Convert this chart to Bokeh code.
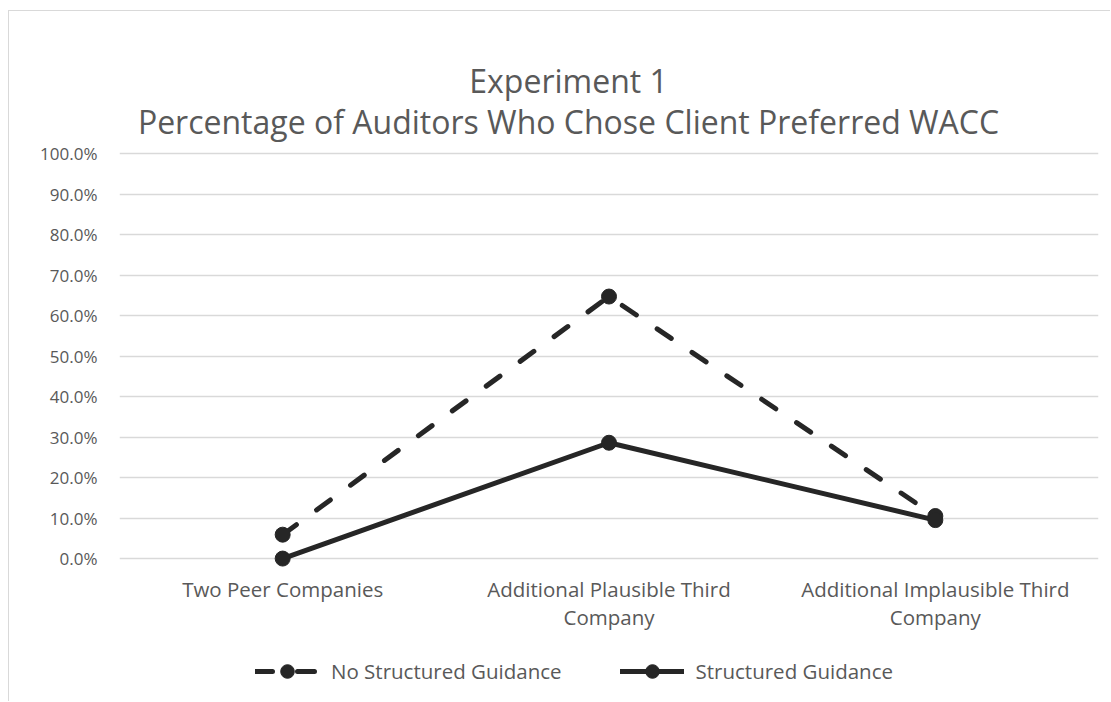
from bokeh.plotting import figure
from bokeh.models import (FactorRange, Range1d, NumeralTickFormatter, FixedTicker,
                          Legend, LegendItem, Label)
from bokeh.core.properties import value
from bokeh.embed import file_html
from bokeh.resources import INLINE

categories = ["Two Peer Companies", "Additional Plausible Third\nCompany",
              "Additional Implausible Third\nCompany"]
no_structured = [0.059, 0.647, 0.105]
structured = [0.0, 0.286, 0.095]
y_ticks = [i / 10 for i in range(11)]
title_line1 = "Experiment 1"
title_line2 = "Percentage of Auditors Who Chose Client Preferred WACC"
series_names = ["No Structured Guidance", "Structured Guidance"]

FONT = "Open Sans"
GRAY = "#595959"
DARK = "#262626"

p = figure(width=1102, height=691, output_backend="svg", toolbar_location=None,
           x_range=FactorRange(*categories, range_padding=0),
           y_range=Range1d(-0.348, 1.299),
           min_border_left=110, min_border_right=13,
           min_border_top=21, min_border_bottom=3)
p.outline_line_color = None
p.background_fill_color = "white"
p.border_fill_color = "white"
p.styles = {"border-top": "1px solid #d9d9d9", "border-left": "1px solid #d9d9d9",
            "margin-left": "8px", "margin-top": "10px"}

r1 = p.line(categories, no_structured, line_color=DARK, line_width=5,
            line_dash="17 25", line_cap="round")
s1 = p.scatter(categories, no_structured, size=15, fill_color=DARK, line_color=DARK)
r2 = p.line(categories, structured, line_color=DARK, line_width=5, line_cap="round")
s2 = p.scatter(categories, structured, size=15, fill_color=DARK, line_color=DARK)

# category labels (x axis tick labels)
p.xaxis.visible = False
p.text(x=categories, y=[-0.040] * len(categories), text=categories,
       text_align="center", text_baseline="top", text_font=value(FONT),
       text_font_size="20.5px", text_color=GRAY, text_line_height=1.0)

p.yaxis.ticker = FixedTicker(ticks=y_ticks)
p.yaxis.formatter = NumeralTickFormatter(format="0.0%")
p.yaxis.axis_line_color = None
p.yaxis.major_tick_line_color = None
p.yaxis.minor_tick_line_color = None
p.yaxis.major_label_text_color = GRAY
p.yaxis.major_label_text_font = FONT
p.yaxis.major_label_text_font_size = "17px"
p.yaxis.major_label_standoff = 16
p.ygrid.ticker = FixedTicker(ticks=y_ticks)
p.ygrid.grid_line_color = "#d9d9d9"
p.ygrid.grid_line_width = 1.5
p.xgrid.grid_line_color = None

p.add_layout(Label(x=1.376, y=1.18, text=title_line1, text_align="center",
                   text_baseline="middle", text_font=FONT, text_font_size="32px",
                   text_color=GRAY))
p.add_layout(Label(x=1.376, y=1.079, text=title_line2, text_align="center",
                   text_baseline="middle", text_font=FONT, text_font_size="32px",
                   text_color=GRAY))

legend = Legend(items=[LegendItem(label=series_names[0], renderers=[r1, s1]),
                       LegendItem(label=series_names[1], renderers=[r2, s2])],
                location=(136, 11), orientation="horizontal",
                glyph_width=64, glyph_height=34, label_standoff=12, spacing=58,
                padding=0, margin=0, border_line_alpha=0, background_fill_alpha=0,
                label_text_font=FONT, label_text_font_size="20.5px",
                label_text_color=GRAY)
p.add_layout(legend, "center")

open("out.html", "w").write(file_html(p, INLINE))
